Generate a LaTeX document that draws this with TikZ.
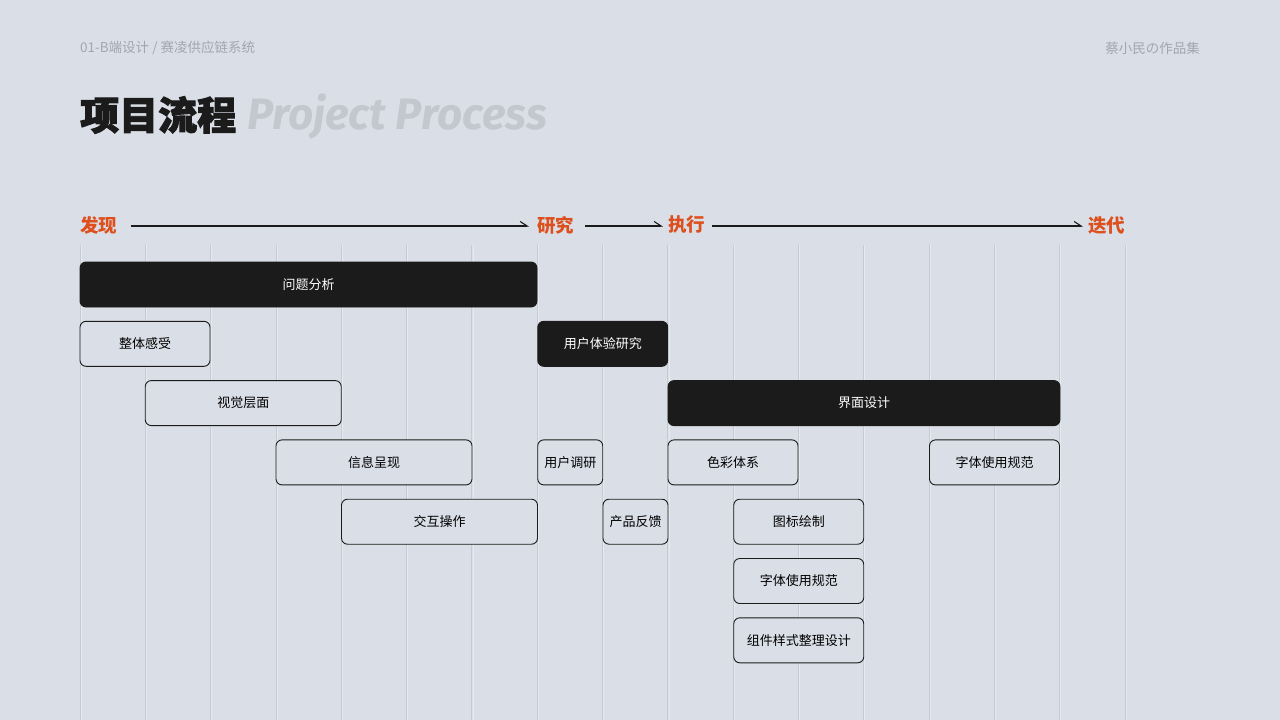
\documentclass[tikz,border=0pt]{standalone}
\usepackage{fontspec}
\setmainfont{Noto Sans CJK SC}
\newfontfamily\cjk{Noto Sans CJK SC}
\newfontfamily\cjkheavy{Noto Sans CJK SC}[BoldFeatures={FakeBold=2.5}]
\newfontfamily\latinbold{Fira Sans}
\usetikzlibrary{arrows.meta}
\definecolor{bgc}{HTML}{DADEE6}
\definecolor{gridc}{HTML}{C6CAD2}
\definecolor{headc}{HTML}{A2A6AE}
\definecolor{phasec}{HTML}{DD4F1C}
\definecolor{boxdark}{HTML}{1B1B1B}
\definecolor{titleen}{HTML}{C3C7CE}
\tikzset{
  lightbox/.style={draw=boxdark, line width=0.9pt, rounded corners=6pt, fill=bgc, minimum height=45pt, inner sep=0pt, font=\cjk\fontsize{13}{15}\selectfont, text=black},
  darkbox/.style={draw=boxdark, line width=0.9pt, rounded corners=6pt, fill=boxdark, minimum height=45pt, inner sep=0pt, font=\cjk\fontsize{13}{15}\selectfont, text=white},
  phase/.style={font=\cjk\bfseries\fontsize{18.5}{20}\selectfont, text=phasec, inner sep=0pt, anchor=west},
  flow/.style={draw=boxdark, line width=1.1pt, -{Straight Barb[left, length=7pt, width=9pt]}},
}
\begin{document}
\begin{tikzpicture}[x=1pt,y=-1pt]
\fill[bgc] (0,0) rectangle (1280,720);
\useasboundingbox (0,0) rectangle (1280,720);
% grid
\foreach \i in {0,...,16}{
  \pgfmathsetmacro{\gx}{80+65.3125*\i}
  \draw[gridc, line width=0.8pt] (\gx,245) -- (\gx,720);
  \draw[white, opacity=0.35, line width=0.8pt] (\gx+1.1,245) -- (\gx+1.1,720);
}
% header
\node[anchor=west, inner sep=0pt, text=headc, font=\cjk\fontsize{13.5}{15}\selectfont] (hdl) at (80,48) {01-B端设计 / 赛凌供应链系统};
\node[anchor=east, inner sep=0pt, text=headc, font=\cjk\fontsize{13.5}{15}\selectfont] (hdr) at (1200,48) {蔡小民の作品集};
\node[anchor=west, inner sep=0pt, text=boxdark, font=\cjkheavy\bfseries\fontsize{39}{44}\selectfont] (tzh) at (80,115) {项目流程};
\node[anchor=west, inner sep=0pt, text=titleen, font=\latinbold\bfseries\itshape\fontsize{44}{48}\selectfont] (ten) at (247,117) {Project Process};
% phases
\node[phase] (p1) at (80,225) {发现};
\node[phase] (p2) at (537,225) {研究};
\node[phase] (p3) at (668,225) {执行};
\node[phase] (p4) at (1088,225) {迭代};
\coordinate (a1s) at (131,226); \coordinate (a1e) at (529,226);
\coordinate (a2s) at (585,226); \coordinate (a2e) at (663,226);
\coordinate (a3s) at (712,226); \coordinate (a3e) at (1083,226);
\draw[flow] (a1s) -- (a1e);
\draw[flow] (a2s) -- (a2e);
\draw[flow] (a3s) -- (a3e);
% boxes: rows centres
\def\rA{284.5}\def\rB{343.8}\def\rC{403.1}\def\rD{462.4}\def\rE{521.7}\def\rF{581}\def\rG{640.3}
\node[darkbox, minimum width=457pt] (b1) at ({(80+537)/2},\rA) {问题分析};
\node[lightbox, minimum width=130pt] (b2) at ({(80+210)/2},\rB) {整体感受};
\node[darkbox, minimum width=130pt] (b3) at ({(537.5+668)/2},\rB) {用户体验研究};
\node[lightbox, minimum width=196pt] (b4) at ({(145.5+341)/2},\rC) {视觉层面};
\node[darkbox, minimum width=392pt] (b5) at ({(668+1060)/2},\rC) {界面设计};
\node[lightbox, minimum width=196pt] (b6) at ({(276+472)/2},\rD) {信息呈现};
\node[lightbox, minimum width=65pt] (b7) at ({(537.5+603)/2},\rD) {用户调研};
\node[lightbox, minimum width=130pt] (b8) at ({(668+798)/2},\rD) {色彩体系};
\node[lightbox, minimum width=130pt] (b9) at ({(929+1060)/2},\rD) {字体使用规范};
\node[lightbox, minimum width=196pt] (b10) at ({(341.5+537.5)/2},\rE) {交互操作};
\node[lightbox, minimum width=65pt] (b11) at ({(603+668)/2},\rE) {产品反馈};
\node[lightbox, minimum width=130pt] (b12) at ({(733.5+864)/2},\rE) {图标绘制};
\node[lightbox, minimum width=130pt] (b13) at ({(733.5+864)/2},\rF) {字体使用规范};
\node[lightbox, minimum width=130pt] (b14) at ({(733.5+864)/2},\rG) {组件样式整理设计};
\end{tikzpicture}
\end{document}
